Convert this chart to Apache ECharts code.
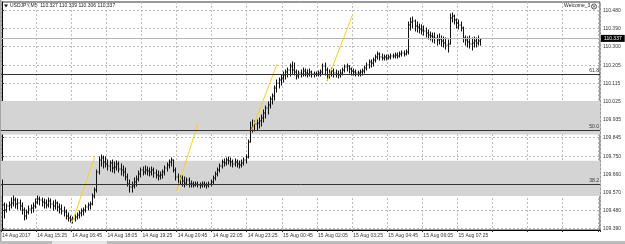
<!DOCTYPE html>
<html>
<head>
<meta charset="utf-8">
<script src="https://cdn.jsdelivr.net/npm/echarts@6/dist/echarts.min.js"></script>
<style>
  html, body { margin: 0; padding: 0; background: #fff; }
  #chart { width: 625px; height: 244px; }
</style>
</head>
<body>
<div id="chart"></div>
<script>
// USDJPY M5, 14 Aug 14:05 onwards, one bar per 5 minutes
const slotCount = 273; // visible bar slots incl. the empty shift area
const categories = Array.from({ length: slotCount }, (_, i) => String(i));

const timeLabels = [
  '14 Aug 2017', '14 Aug 15:25', '14 Aug 16:45', '14 Aug 18:05', '14 Aug 19:25',
  '14 Aug 20:45', '14 Aug 22:05', '14 Aug 23:25', '15 Aug 00:45', '15 Aug 02:05',
  '15 Aug 03:25', '15 Aug 04:45', '15 Aug 06:05', '15 Aug 07:25'
];

const priceTicks = [
  109.390, 109.480, 109.570, 109.660, 109.750, 109.845, 109.935,
  110.025, 110.115, 110.205, 110.300, 110.390, 110.480
];

const opens = [
  109.607,109.507,109.482,109.502,109.507,109.517,109.532,109.512,109.517,109.502,
  109.482,109.452,109.472,109.487,109.492,109.502,109.522,109.537,109.532,109.522,
  109.517,109.507,109.527,109.512,109.502,109.517,109.497,109.487,109.477,109.472,
  109.452,109.442,109.432,109.437,109.447,109.457,109.467,109.477,109.482,109.497,
  109.507,109.512,109.552,109.582,109.672,109.732,109.742,109.722,109.712,109.702,
  109.717,109.692,109.697,109.712,109.687,109.682,109.672,109.647,109.612,109.597,
  109.602,109.622,109.637,109.662,109.682,109.672,109.682,109.677,109.672,109.682,
  109.667,109.657,109.652,109.657,109.672,109.692,109.707,109.722,109.732,109.682,
  109.647,109.622,109.642,109.627,109.617,109.632,109.612,109.612,109.607,109.612,
  109.607,109.607,109.612,109.607,109.607,109.612,109.622,109.642,109.662,109.682,
  109.702,109.722,109.717,109.732,109.727,109.722,109.712,109.722,109.712,109.707,
  109.717,109.732,109.747,109.822,109.892,109.902,109.912,109.917,109.927,109.942,
  109.967,109.992,110.007,110.037,110.052,110.092,110.117,110.132,110.142,110.157,
  110.172,110.182,110.202,110.182,110.172,110.152,110.167,110.162,110.177,110.167,
  110.162,110.172,110.162,110.162,110.162,110.167,110.172,110.202,110.182,110.152,
  110.167,110.177,110.167,110.162,110.157,110.167,110.182,110.197,110.202,110.187,
  110.177,110.172,110.167,110.167,110.172,110.177,110.192,110.207,110.222,110.217,
  110.232,110.247,110.262,110.247,110.242,110.247,110.242,110.247,110.252,110.252,
  110.257,110.252,110.262,110.267,110.262,110.272,110.407,110.422,110.427,110.402,
  110.397,110.387,110.382,110.377,110.367,110.357,110.352,110.347,110.342,110.332,
  110.337,110.327,110.317,110.307,110.312,110.442,110.452,110.432,110.417,110.407,
  110.392,110.342,110.332,110.322,110.312,110.317,110.327,110.317,110.327
];

const highs = [
  109.632,109.517,109.512,109.522,109.542,109.552,109.542,109.537,109.532,109.517,
  109.492,109.482,109.502,109.507,109.517,109.537,109.552,109.547,109.542,109.537,
  109.532,109.542,109.537,109.527,109.532,109.522,109.512,109.507,109.497,109.482,
  109.467,109.452,109.447,109.457,109.467,109.477,109.487,109.492,109.507,109.517,
  109.522,109.562,109.592,109.682,109.747,109.757,109.752,109.747,109.732,109.727,
  109.732,109.722,109.727,109.722,109.712,109.702,109.692,109.662,109.632,109.622,
  109.642,109.652,109.677,109.692,109.697,109.702,109.697,109.692,109.697,109.692,
  109.682,109.677,109.672,109.682,109.702,109.717,109.732,109.742,109.732,109.692,
  109.662,109.652,109.652,109.647,109.642,109.642,109.627,109.622,109.622,109.622,
  109.617,109.622,109.622,109.617,109.622,109.632,109.652,109.672,109.692,109.712,
  109.732,109.737,109.742,109.747,109.742,109.732,109.737,109.732,109.727,109.732,
  109.742,109.757,109.832,109.922,109.932,109.927,109.932,109.942,109.957,109.982,
  110.002,110.022,110.047,110.062,110.102,110.132,110.142,110.157,110.172,110.182,
  110.192,110.212,110.222,110.217,110.182,110.177,110.182,110.192,110.187,110.182,
  110.187,110.177,110.172,110.172,110.177,110.182,110.212,110.217,110.192,110.182,
  110.192,110.187,110.182,110.177,110.182,110.192,110.207,110.212,110.202,110.192,
  110.187,110.182,110.177,110.182,110.187,110.202,110.217,110.232,110.232,110.242,
  110.257,110.272,110.267,110.262,110.257,110.257,110.257,110.262,110.262,110.267,
  110.267,110.272,110.277,110.277,110.282,110.422,110.442,110.447,110.432,110.422,
  110.412,110.407,110.402,110.392,110.382,110.372,110.367,110.367,110.357,110.362,
  110.352,110.347,110.342,110.332,110.462,110.467,110.457,110.437,110.432,110.422,
  110.397,110.352,110.347,110.352,110.342,110.347,110.342,110.352,110.339
];

const lows = [
  109.492,109.442,109.472,109.482,109.492,109.502,109.492,109.487,109.482,109.462,
  109.432,109.437,109.462,109.467,109.472,109.492,109.512,109.507,109.502,109.492,
  109.492,109.497,109.492,109.482,109.487,109.477,109.467,109.462,109.452,109.437,
  109.427,109.422,109.417,109.427,109.437,109.442,109.452,109.457,109.472,109.482,
  109.487,109.507,109.542,109.572,109.662,109.702,109.692,109.697,109.682,109.677,
  109.672,109.667,109.682,109.672,109.657,109.652,109.632,109.602,109.572,109.572,
  109.592,109.602,109.627,109.647,109.657,109.662,109.657,109.652,109.657,109.647,
  109.642,109.632,109.637,109.642,109.657,109.677,109.692,109.702,109.672,109.632,
  109.607,109.612,109.602,109.597,109.607,109.597,109.597,109.597,109.602,109.597,
  109.592,109.597,109.597,109.592,109.597,109.602,109.612,109.632,109.652,109.672,
  109.692,109.702,109.707,109.712,109.702,109.697,109.702,109.697,109.692,109.697,
  109.707,109.717,109.742,109.822,109.872,109.877,109.882,109.892,109.902,109.922,
  109.942,109.962,109.992,110.012,110.032,110.072,110.092,110.107,110.122,110.137,
  110.147,110.152,110.162,110.157,110.137,110.142,110.147,110.152,110.152,110.147,
  110.152,110.147,110.147,110.152,110.152,110.152,110.162,110.157,110.132,110.142,
  110.152,110.147,110.147,110.142,110.147,110.157,110.172,110.177,110.167,110.157,
  110.157,110.152,110.152,110.152,110.157,110.167,110.182,110.192,110.197,110.202,
  110.222,110.237,110.232,110.232,110.232,110.232,110.237,110.237,110.242,110.242,
  110.242,110.247,110.252,110.252,110.257,110.262,110.382,110.392,110.377,110.372,
  110.367,110.362,110.357,110.347,110.337,110.332,110.322,110.317,110.307,110.312,
  110.302,110.297,110.287,110.272,110.312,110.422,110.412,110.392,110.387,110.377,
  110.322,110.307,110.297,110.292,110.282,110.297,110.297,110.307,110.306
];

const closes = [
  109.507,109.482,109.502,109.507,109.517,109.532,109.512,109.517,109.502,109.482,
  109.452,109.472,109.487,109.492,109.502,109.522,109.537,109.532,109.522,109.517,
  109.507,109.527,109.512,109.502,109.517,109.497,109.487,109.477,109.472,109.452,
  109.442,109.432,109.437,109.447,109.457,109.467,109.477,109.482,109.497,109.507,
  109.512,109.552,109.582,109.672,109.732,109.742,109.722,109.712,109.702,109.717,
  109.692,109.697,109.712,109.687,109.682,109.672,109.647,109.612,109.597,109.602,
  109.622,109.637,109.662,109.682,109.672,109.682,109.677,109.672,109.682,109.667,
  109.657,109.652,109.657,109.672,109.692,109.707,109.722,109.732,109.682,109.647,
  109.622,109.642,109.627,109.617,109.632,109.612,109.612,109.607,109.612,109.607,
  109.607,109.612,109.607,109.607,109.612,109.622,109.642,109.662,109.682,109.702,
  109.722,109.717,109.732,109.727,109.722,109.712,109.722,109.712,109.707,109.717,
  109.732,109.747,109.822,109.892,109.902,109.912,109.917,109.927,109.942,109.967,
  109.992,110.007,110.037,110.052,110.092,110.117,110.132,110.142,110.157,110.172,
  110.182,110.202,110.182,110.172,110.152,110.167,110.162,110.177,110.167,110.162,
  110.172,110.162,110.162,110.162,110.167,110.172,110.202,110.182,110.152,110.167,
  110.177,110.167,110.162,110.157,110.167,110.182,110.197,110.202,110.187,110.177,
  110.172,110.167,110.167,110.172,110.177,110.192,110.207,110.222,110.217,110.232,
  110.247,110.262,110.247,110.242,110.247,110.242,110.247,110.252,110.252,110.257,
  110.252,110.262,110.267,110.262,110.272,110.407,110.422,110.427,110.402,110.397,
  110.387,110.382,110.377,110.367,110.357,110.352,110.347,110.342,110.332,110.337,
  110.327,110.317,110.307,110.312,110.442,110.452,110.432,110.417,110.407,110.392,
  110.342,110.332,110.322,110.312,110.317,110.327,110.317,110.327,110.337
];

// fibo levels and shaded zones
const fibNames = ['61.8', '50.0', '38.2'];
const fibLevels = [110.161, 109.8835, 109.6105];
const zoneTops = [110.027, 109.7285];
const zoneBottoms = [109.8595, 109.552];

// hand drawn trend lines: [bar index, price]
const trendLines = [
  [[32, 109.423], [42.2, 109.748]],
  [[79.5, 109.577], [89.4, 109.918]],
  [[113.8, 109.882], [125.3, 110.211]],
  [[148.1, 110.128], [159.9, 110.462]]
];

const lastPrice = 110.337;
const header = 'USDJPY,M5  110.327 110.339 110.306 110.337';

const bars = opens.map((o, i) => [i, o, highs[i], lows[i], closes[i]]);

const font = 'Liberation Sans';
const textColor = '#333';
const gridDash = { color: '#bdbdbd', type: [2, 2], width: 1 };

function renderBar(params, api) {
  const i = api.value(0);
  const hi = api.coord([i, api.value(2)]);
  const lo = api.coord([i, api.value(3)]);
  const op = api.coord([i, api.value(1)]);
  const cl = api.coord([i, api.value(4)]);
  const x = Math.round(hi[0]) + 0.5;
  const st = { stroke: '#111', lineWidth: 1 };
  return {
    type: 'group',
    children: [
      { type: 'line', shape: { x1: x, y1: hi[1] - 0.5, x2: x, y2: lo[1] + 0.5 }, style: st },
      { type: 'line', shape: { x1: x - 1, y1: op[1], x2: x, y2: op[1] }, style: st },
      { type: 'line', shape: { x1: x, y1: cl[1], x2: x + 1, y2: cl[1] }, style: st }
    ]
  };
}

const chart = echarts.init(document.getElementById('chart'));

const option = {
  animation: false,
  backgroundColor: '#fff',
  grid: {
    left: 1, right: 25, top: 2, bottom: 14,
    show: true, borderColor: '#333', borderWidth: 1,
    outerBoundsMode: 'none'
  },
  xAxis: [
    {
      type: 'category',
      data: categories,
      boundaryGap: true,
      axisLine: { show: true, lineStyle: { color: '#000' } },
      axisTick: { show: true, interval: 15, length: 2, lineStyle: { color: '#333' } },
      axisLabel: {
        interval: 15,
        align: 'left',
        margin: 3,
        fontSize: 5,
        fontFamily: font,
        color: textColor,
        formatter: (val, idx) => timeLabels[idx / 16] || ''
      },
      splitLine: { show: true, interval: 15, lineStyle: gridDash }
    },
    { type: 'value', min: -0.5, max: slotCount - 0.5, show: false }
  ],
  yAxis: {
    type: 'value',
    position: 'right',
    min: 109.382,
    max: 110.522,
    axisLine: { show: true, lineStyle: { color: '#000' } },
    axisTick: { show: true, length: 2, customValues: priceTicks, lineStyle: { color: '#333' } },
    axisLabel: {
      customValues: priceTicks,
      margin: 3,
      fontSize: 5,
      fontFamily: font,
      color: textColor,
      formatter: (v) => v.toFixed(3)
    },
    splitLine: { show: true, lineStyle: gridDash }
  },
  series: [
    {
      type: 'custom',
      name: 'USDJPY',
      renderItem: renderBar,
      data: bars,
      encode: { x: 0, y: [1, 2, 3, 4] },
      z: 3,
      markArea: {
        silent: true,
        itemStyle: { color: '#d4d4d4' },
        data: zoneTops.map((t, k) => [{ yAxis: t }, { yAxis: zoneBottoms[k] }])
      },
      markLine: {
        silent: true,
        symbol: ['none', 'none'],
        animation: false,
        data: fibLevels.map((v, k) => ({
          yAxis: v,
          lineStyle: { color: '#333', type: 'solid', width: 1 },
          label: {
            position: 'insideEndTop', distance: 1, formatter: fibNames[k],
            fontSize: 5, fontFamily: font, color: textColor
          }
        })).concat([{
          yAxis: lastPrice,
          lineStyle: { color: '#b4b4b4', type: 'solid', width: 1 },
          label: {
            position: 'end', distance: 1, formatter: lastPrice.toFixed(3),
            fontSize: 5, fontFamily: font, color: '#fff',
            backgroundColor: '#000', padding: [1, 3, 1, 3]
          }
        }])
      }
    }
  ].concat(trendLines.map((seg) => ({
    type: 'line',
    xAxisIndex: 1,
    data: seg,
    symbol: 'none',
    silent: true,
    z: 4,
    lineStyle: { color: '#ffcf1a', width: 1 }
  }))),
  graphic: [
    { type: 'rect', shape: { x: 0, y: 0, width: 1.5, height: 241 }, style: { fill: '#a6a6a6' } },
    { type: 'rect', shape: { x: 0, y: 241, width: 625, height: 3 }, style: { fill: '#bcbcbc' } },
    { type: 'rect', shape: { x: 52, y: 241, width: 55, height: 3 }, style: { fill: '#e6e6e6' } },
    { type: 'polygon', shape: { points: [[4, 4.5], [8, 4.5], [6, 7.5]] }, style: { fill: '#222' } },
    {
      type: 'text', left: 10, top: 3,
      style: { text: header, fontSize: 5, fontFamily: font, fill: '#222' }
    },
    {
      type: 'text', left: 564, top: 3.5,
      style: { text: 'Welcome_3', fontSize: 5, fontFamily: font, fill: '#222' }
    },
    { type: 'circle', shape: { cx: 594, cy: 6.5, r: 2.6 }, style: { fill: 'none', stroke: '#333', lineWidth: 0.8 } },
    { type: 'line', shape: { x1: 592.8, y1: 5.3, x2: 595.2, y2: 7.7 }, style: { stroke: '#333', lineWidth: 0.8 } },
    { type: 'line', shape: { x1: 595.2, y1: 5.3, x2: 592.8, y2: 7.7 }, style: { stroke: '#333', lineWidth: 0.8 } }
  ]
};

chart.setOption(option);
</script>
</body>
</html>
